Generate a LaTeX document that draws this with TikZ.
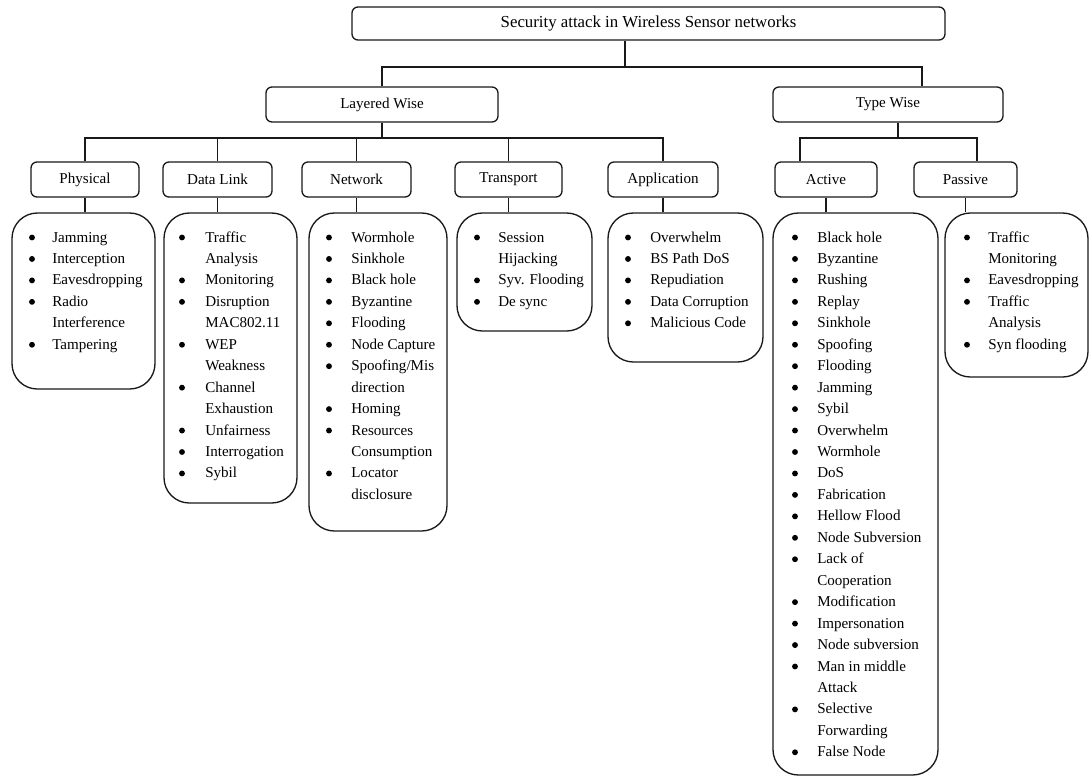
\documentclass[tikz,border=0pt]{standalone}
\usepackage{fontspec}
\setmainfont{Liberation Serif}
\usetikzlibrary{calc}

% box from its corners: name, x1, y1, x2, y2, style, text
\newcommand\boxat[7]{%
  \node[#6, minimum width={0.75pt*(#4-#2)}, minimum height={0.75pt*(#5-#3)}]
    (#1) at ({(#2+#4)/2},{(#3+#5)/2}) {#7};}

% bulleted lines: name, bullet x, text x, first baseline y, list of flag/text
\newcommand\itemsat[5]{%
  \foreach [count=\n from 0] \b/\t in {#5}{%
    \node[itemtext] (#1\n) at (#3, {#4+21.45*\n}) {\t};
    \ifnum\b=1 \node[dot] (#1b\n) at (#2, {#4-4.5+21.45*\n}) {};\fi
  }}

\begin{document}
\begin{tikzpicture}[x=0.75pt, y=-0.75pt,
  ink/.style={draw=black!90, line width=1pt},
  head/.style={ink, rounded corners=4.5pt, inner sep=0pt,
    font=\fontsize{11.3}{13}\selectfont},
  listbox/.style={ink, rounded corners=19pt, inner sep=0pt},
  itemtext/.style={inner sep=0pt, anchor=base west, text=black,
    font=\fontsize{11.3}{13}\selectfont},
  dot/.style={circle, fill=black, inner sep=0pt, minimum size=4.4pt},
  wire/.style={ink}]
\useasboundingbox (0,0) rectangle (1090,776);

% heading boxes
\boxat{title}{352}{7}{945}{40}{head, font=\fontsize{12.6}{14}\selectfont}{Security attack in Wireless Sensor networks}
\boxat{lw}{266}{87}{498}{122}{head}{Layered Wise}
\boxat{tw}{773}{87}{1003}{122}{head}{Type Wise}
\boxat{phys}{31}{162}{139}{197}{head}{Physical}
\boxat{dl}{163}{162}{272}{197}{head}{Data Link}
\boxat{net}{302}{162}{411}{197}{head}{Network}
\boxat{trans}{455}{162}{562}{197}{head}{Transport}
\boxat{app}{608}{162}{718}{197}{head}{Application}
\boxat{act}{775}{162}{877}{197}{head}{Active}
\boxat{pas}{914}{162}{1017}{197}{head}{Passive}

% list boxes
\boxat{physL}{12}{213}{155}{389}{listbox}{}
\boxat{dlL}{164}{213}{297}{503}{listbox}{}
\boxat{netL}{309}{213}{447}{531}{listbox}{}
\boxat{transL}{457}{213}{592}{331}{listbox}{}
\boxat{appL}{608}{213}{763}{362}{listbox}{}
\boxat{actL}{773}{213}{938}{775}{listbox}{}
\boxat{pasL}{945}{213}{1088}{377}{listbox}{}

% junctions of the tree
\coordinate (j0) at (625,67);
\coordinate (j0r) at (922,67);
\coordinate (j1) at (0,138);
\coordinate (j2) at (898,138);
\coordinate (ja) at (800,138);
\coordinate (jp) at (977,138);

\draw[wire] (title.south -| j0) -- (j0);
\draw[wire] (lw.north) |- (j0r) -- (tw.north -| j0r);
\draw[wire] (lw.south) -- (lw.south |- j1);
\draw[wire] (phys.north) |- (app.north |- j1) -- (app.north);
\foreach \b in {dl,net,trans} \draw[wire] (\b.north) -- (\b.north |- j1);
\draw[wire] (tw.south -| j2) -- (j2);
\draw[wire] (act.north -| ja) |- (jp) -- (pas.north -| jp);
\foreach \b in {phys,dl,net,trans,app,act,pas}
  \draw[wire] (\b.south) -- (\b.south |- \b L.north);

% list contents
\itemsat{p}{32}{52}{242}{1/Jamming,1/Interception,1/Eavesdropping,1/Radio,0/Interference,1/Tampering}
\itemsat{d}{182}{205}{242}{1/Traffic,0/Analysis,1/Monitoring,1/Disruption,0/MAC802.11,1/WEP,0/Weakness,1/Channel,0/Exhaustion,1/Unfairness,1/Interrogation,1/Sybil}
\itemsat{n}{329}{351}{242}{1/Wormhole,1/Sinkhole,1/Black hole,1/Byzantine,1/Flooding,1/Node Capture,1/{Spoofing/Mis},0/direction,1/Homing,1/Resources,0/Consumption,1/Locator,0/disclosure}
\itemsat{t}{477}{498}{242}{1/Session,0/Hijacking,1/Syv. Flooding,1/De sync}
\itemsat{a}{628}{650}{242}{1/Overwhelm,1/BS Path DoS,1/Repudiation,1/Data Corruption,1/Malicious Code}
\itemsat{c}{795}{817}{242}{1/Black hole,1/Byzantine,1/Rushing,1/Replay,1/Sinkhole,1/Spoofing,1/Flooding,1/Jamming,1/Sybil,1/Overwhelm,1/Wormhole,1/DoS,1/Fabrication,1/Hellow Flood,1/Node Subversion,1/Lack of,0/Cooperation,1/Modification,1/Impersonation,1/Node subversion,1/Man in middle,0/Attack,1/Selective,0/Forwarding,1/False Node}
\itemsat{s}{967}{988}{242}{1/Traffic,0/Monitoring,1/Eavesdropping,1/Traffic,0/Analysis,1/Syn flooding}
\end{tikzpicture}
\end{document}
